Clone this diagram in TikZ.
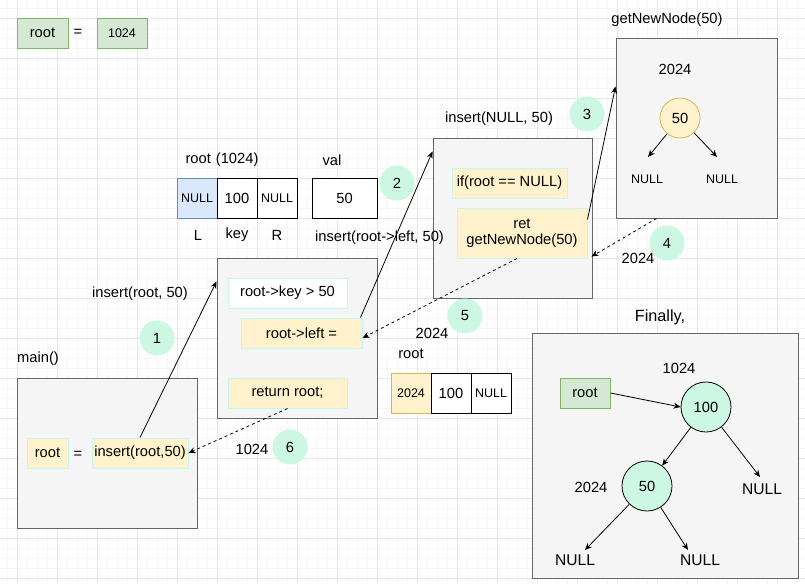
\documentclass[tikz,border=0pt]{standalone}
\usepackage{fontspec}
\setmainfont{Liberation Sans}
\usetikzlibrary{arrows.meta,calc}
\definecolor{gfill}{HTML}{D5E8D4}
\definecolor{gline}{HTML}{82B366}
\definecolor{bfill}{HTML}{DAE8FC}
\definecolor{bline}{HTML}{6C8EBF}
\definecolor{yfill}{HTML}{FFF2CC}
\definecolor{yline}{HTML}{D6B656}
\definecolor{grfill}{HTML}{F5F5F5}
\definecolor{grline}{HTML}{666666}
\definecolor{mint}{HTML}{CCF7E3}
\definecolor{mintline}{HTML}{C8F5EC}
\definecolor{gridmin}{HTML}{F6F6F6}
\definecolor{gridmaj}{HTML}{E8E8E8}
\newcommand\fA{\fontsize{14.7}{17}\selectfont}
\newcommand\fS{\fontsize{12.5}{15}\selectfont}
\newcommand\fL{\fontsize{15.6}{18}\selectfont}
\newcommand\fF{\fontsize{16.2}{19}\selectfont}
\begin{document}
\begin{tikzpicture}[x=1pt,y=-1pt,
  txt/.style={inner sep=0pt, font=\fA},
  greenbox/.style={draw=gline, fill=gfill, line width=1pt, inner sep=0pt, font=\fA},
  graybox/.style={draw=grline, fill=grfill, line width=1pt, inner sep=0pt},
  codebox/.style={draw=mintline, fill=yfill, line width=1pt, inner sep=0pt, font=\fA},
  cell/.style={draw=black, fill=white, line width=1pt, inner sep=0pt, minimum width=40, minimum height=40, font=\fA},
  numc/.style={circle, fill=mint, minimum size=35, inner sep=0pt, font=\fA},
  treec/.style={circle, draw=black, fill=mint, line width=0.8pt, minimum size=50, inner sep=0pt, font=\fA},
  arr/.style={-{Stealth[length=7pt,width=6pt]}, line width=0.8pt, black},
  darr/.style={arr, dash pattern=on 3pt off 3pt}]
% background and grid
\fill[white] (0,0) rectangle (805,584);
\useasboundingbox (0,0) rectangle (805,584);
\foreach \gx in {7,17,...,797} \draw[gridmin, line width=1pt] (\gx,0) -- (\gx,584);
\foreach \gy in {8,18,...,578} \draw[gridmin, line width=1pt] (0,\gy) -- (805,\gy);
\foreach \gx in {17,57,...,777} \draw[gridmaj, line width=1pt] (\gx,0) -- (\gx,584);
\foreach \gy in {18,58,...,578} \draw[gridmaj, line width=1pt] (0,\gy) -- (805,\gy);

% top-left
\node[greenbox, minimum width=51, minimum height=30] (tlroot) at (42.5,33) {root};
\node[txt] (tleq) at (78,33) {=};
\node[greenbox, minimum width=50, minimum height=30, font=\fS] (tlval) at (122,33) {1024};

% root array
\node[txt] (rtitle) at (222,160) {root\hspace{5pt}(1024)};
\node[cell, draw=bline, fill=bfill, font=\fS] (a1l) at (197,198) {NULL};
\node[cell] (a1k) at (237,198) {100};
\node[cell, font=\fS] (a1r) at (277,198) {NULL};
\node[txt] (lL) at (198,235) {L};
\node[txt] (lkey) at (237,235) {key};
\node[txt] (lR) at (277,235) {R};
\node[txt] (valt) at (332,160) {val};
\node[cell, minimum width=65] (valbox) at (344.5,198) {50};
\node[numc] (c2) at (397,183) {2};

% middle box
\node[graybox, minimum width=160, minimum height=160] (mid) at (297,338) {};
\node[codebox, fill=white, minimum width=119, minimum height=30] (kbox) at (287.5,293) {root->key > 50};
\node[codebox, minimum width=121, minimum height=30] (leftbox) at (301.5,333) {root->left =};
\node[codebox, minimum width=119, minimum height=30] (retbox) at (287.5,393) {return root;};

% main
\node[txt] (maint) at (38,359) {main()};
\node[graybox, minimum width=180, minimum height=150] (main) at (107,453) {};
\node[codebox, minimum width=41, minimum height=30] (mroot) at (47.5,453) {root};
\node[txt] (meq) at (78,455) {=};
\node[codebox, minimum width=96, minimum height=30] (mins) at (140,453) {insert(root,50)};
\node[txt] (insroot) at (140,294) {insert(root, 50)};
\node[numc] (c1) at (157,338) {1};
\node[numc] (c6) at (290,447) {6};
\node[txt] (t1024) at (252,449) {1024};

% insert(NULL,50)
\node[txt] (insnull) at (499,119) {insert(NULL, 50)};
\node[numc] (c3) at (587,114) {3};
\node[graybox, minimum width=159, minimum height=160] (ins2) at (512.5,218) {};
\node[codebox, minimum width=115, minimum height=30] (ifbox) at (509.5,183) {if(root == NULL)};
\node[codebox, minimum width=130, minimum height=50, align=center] (retg) at (522,233) {ret\\[-1pt]getNewNode(50)};
\node[txt] (insleft) at (379.5,238) {insert(root->left, 50)};

% getNewNode
\node[txt] (gnnt) at (667,20) {getNewNode(50)};
\node[graybox, minimum width=161, minimum height=180] (gnn) at (696.5,128) {};
\node[txt] (g2024) at (675,69) {2024};
\node[circle, draw=yline, fill=yfill, line width=0.8pt, minimum size=40, inner sep=0pt, font=\fA] (c50a) at (680,118) {50};
\node[txt, font=\fS] (gnl) at (647,179) {NULL};
\node[txt, font=\fS] (gnr) at (722,179) {NULL};
\coordinate (gtl) at (648,157);
\coordinate (gtr) at (717,157);
\draw[arr] (c50a) -- (gtl);
\draw[arr] (c50a) -- (gtr);

\node[numc] (c4) at (667,243) {4};
\node[txt] (t2024a) at (638,258) {2024};
\node[numc] (c5) at (465,316) {5};
\node[txt] (t2024b) at (432,333) {2024};
\node[txt] (troot) at (411,354) {root};
\node[cell, draw=yline, fill=yfill, font=\fS] (a2a) at (411,393) {2024};
\node[cell] (a2b) at (451,393) {100};
\node[cell, font=\fS] (a2c) at (491,393) {NULL};

% Finally
\node[txt, font=\fF] (fint) at (660,317) {Finally,};
\node[graybox, minimum width=266, minimum height=245] (fin) at (665,455.5) {};
\node[txt] (f1024) at (679,368) {1024};
\node[greenbox, minimum width=50, minimum height=30] (froot) at (585,393) {root};
\node[treec] (c100) at (706,407) {100};
\node[treec] (c50b) at (647,486) {50};
\node[txt] (f2024) at (591,487) {2024};
\node[txt, font=\fL] (fnr) at (762,489) {NULL};
\node[txt, font=\fL] (fnbl) at (575,560) {NULL};
\node[txt, font=\fL] (fnbr) at (700,560) {NULL};
\coordinate (tnr) at (760,477);
\coordinate (tbl) at (585,550);
\coordinate (tbr) at (688,550);
\draw[arr] (froot.east) -- (c100.west);
\draw[arr] (c100) -- (c50b);
\draw[arr] (c100) -- (tnr);
\draw[arr] (c50b) -- (tbl);
\draw[arr] (c50b) -- (tbr);

% call arrows
\draw[arr] (mins.north) -- ([yshift=-24pt]mid.north west);
\draw[arr] ([xshift=-2pt]leftbox.north east) -- ([yshift=-14pt]ins2.north west);
\draw[arr] ([yshift=-12pt]retg.north east) -- ([yshift=-49pt]gnn.north west);
\draw[darr] ([xshift=-40pt]gnn.south) -- ([xshift=4pt,yshift=2pt]retg.south east);
\draw[darr] ([xshift=-5pt]retg.south) -- ([yshift=-5pt]leftbox.east);
\draw[darr] (retbox.south) -- (mins.east);
\end{tikzpicture}
\end{document}
